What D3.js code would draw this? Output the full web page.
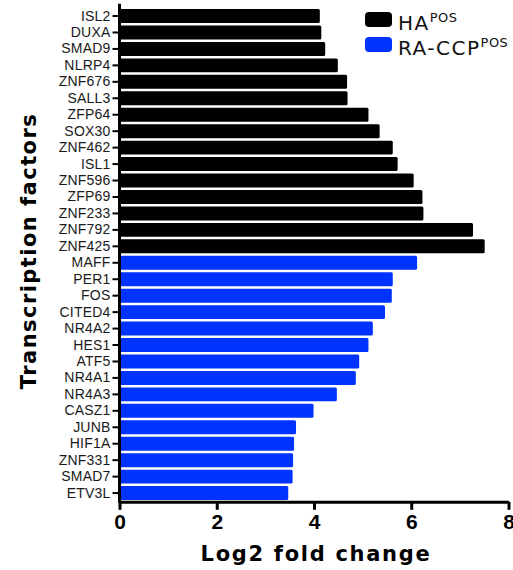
<!DOCTYPE html>
<html>
<head>
<meta charset="utf-8">
<script src="https://cdn.jsdelivr.net/npm/d3@7"></script>
<style>
  body { margin: 0; background: #fff; }
  svg { display: block; font-family: "DejaVu Sans", Verdana, sans-serif; }
</style>
</head>
<body>
<div id="chart"></div>
<script>
// HA-positive transcription factors (black)
var haGenes = ["ISL2", "DUXA", "SMAD9", "NLRP4", "ZNF676", "SALL3", "ZFP64", "SOX30",
  "ZNF462", "ISL1", "ZNF596", "ZFP69", "ZNF233", "ZNF792", "ZNF425"];
var haValues = [4.12, 4.15, 4.23, 4.49, 4.68, 4.69, 5.12, 5.35, 5.62, 5.72, 6.05, 6.23, 6.25, 7.27, 7.51];

// RA-CCP-positive transcription factors (blue)
var raGenes = ["MAFF", "PER1", "FOS", "CITED4", "NR4A2", "HES1", "ATF5", "NR4A1",
  "NR4A3", "CASZ1", "JUNB", "HIF1A", "ZNF331", "SMAD7", "ETV3L"];
var raValues = [6.12, 5.62, 5.60, 5.46, 5.21, 5.12, 4.93, 4.86, 4.47, 3.99, 3.63, 3.59, 3.57, 3.56, 3.47];

var xTicks = [0, 2, 4, 6, 8];
var groups = ["HA", "RA-CCP"];
var colors = { "HA": "#000000", "RA-CCP": "#0033ff" };

var data = haGenes.map(function(g, i) { return { gene: g, value: haValues[i], group: "HA" }; })
  .concat(raGenes.map(function(g, i) { return { gene: g, value: raValues[i], group: "RA-CCP" }; }));

var width = 513, height = 570;
var margin = { top: 7.8, right: 4.5, bottom: 68.7, left: 119.5 };
var innerW = width - margin.left - margin.right,
  innerH = height - margin.top - margin.bottom;

var x = d3.scaleLinear().domain([0, 8]).range([0, innerW]);
var y = d3.scaleBand()
  .domain(data.map(function(d) { return d.gene; }))
  .range([0, innerH])
  .paddingInner(0.15)
  .paddingOuter(0.075);

var svg = d3.select("#chart").append("svg")
  .attr("width", width)
  .attr("height", height);

var g = svg.append("g")
  .attr("transform", "translate(" + margin.left + "," + margin.top + ")");

g.selectAll(".bar")
  .data(data)
  .enter().append("rect")
  .attr("class", "bar")
  .attr("x", 0)
  .attr("y", function(d) { return y(d.gene); })
  .attr("width", function(d) { return x(d.value); })
  .attr("height", y.bandwidth())
  .attr("rx", 1.5)
  .attr("fill", function(d) { return colors[d.group]; });

// y axis
var yAxis = g.append("g")
  .call(d3.axisLeft(y).tickSize(7).tickPadding(2));
yAxis.select(".domain").remove();
yAxis.selectAll(".tick line").attr("stroke", "#000").attr("stroke-width", 2);
yAxis.selectAll(".tick text")
  .attr("font-size", "14px")
  .attr("letter-spacing", "0.2px")
  .attr("fill", "#1a1a1a");
g.append("line")
  .attr("x1", 0).attr("x2", 0)
  .attr("y1", -4).attr("y2", innerH + 1.5)
  .attr("stroke", "#000").attr("stroke-width", 3);

// x axis
var xAxis = g.append("g")
  .attr("transform", "translate(0," + (innerH + 0.5) + ")")
  .call(d3.axisBottom(x).tickValues(xTicks).tickSize(8).tickPadding(4).tickSizeOuter(0));
xAxis.select(".domain").attr("stroke-width", 3);
xAxis.selectAll(".tick line").attr("stroke-width", 3);
xAxis.selectAll(".tick text")
  .attr("font-size", "21px")
  .attr("font-weight", "bold")
  .attr("fill", "#000");

// axis titles
svg.append("text")
  .attr("x", 316)
  .attr("y", 561)
  .attr("text-anchor", "middle")
  .attr("font-size", "21px")
  .attr("font-weight", "bold")
  .attr("letter-spacing", "1.7px")
  .text("Log2 fold change");

svg.append("text")
  .attr("transform", "translate(35.5,251) rotate(-90)")
  .attr("text-anchor", "middle")
  .attr("font-size", "21px")
  .attr("font-weight", "bold")
  .attr("letter-spacing", "1.45px")
  .text("Transcription factors");

// legend
var legend = svg.append("g").attr("transform", "translate(365,12)");
legend.append("rect")
  .attr("x", -22).attr("y", -10).attr("width", 168).attr("height", 66)
  .attr("fill", "#fff");
groups.forEach(function(grp, i) {
  var row = legend.append("g").attr("transform", "translate(0," + (i * 25) + ")");
  row.append("rect")
    .attr("width", 27).attr("height", 15).attr("rx", 4)
    .attr("fill", colors[grp]);
  var t = row.append("text")
    .attr("x", 33).attr("y", 17.5)
    .attr("font-size", "20px")
    .attr("letter-spacing", "1.5px")
    .attr("fill", "#111");
  t.append("tspan").text(grp);
  t.append("tspan").attr("font-size", "13px").attr("letter-spacing", "0.5px").attr("dy", -8).text("POS");
});
</script>
</body>
</html>
